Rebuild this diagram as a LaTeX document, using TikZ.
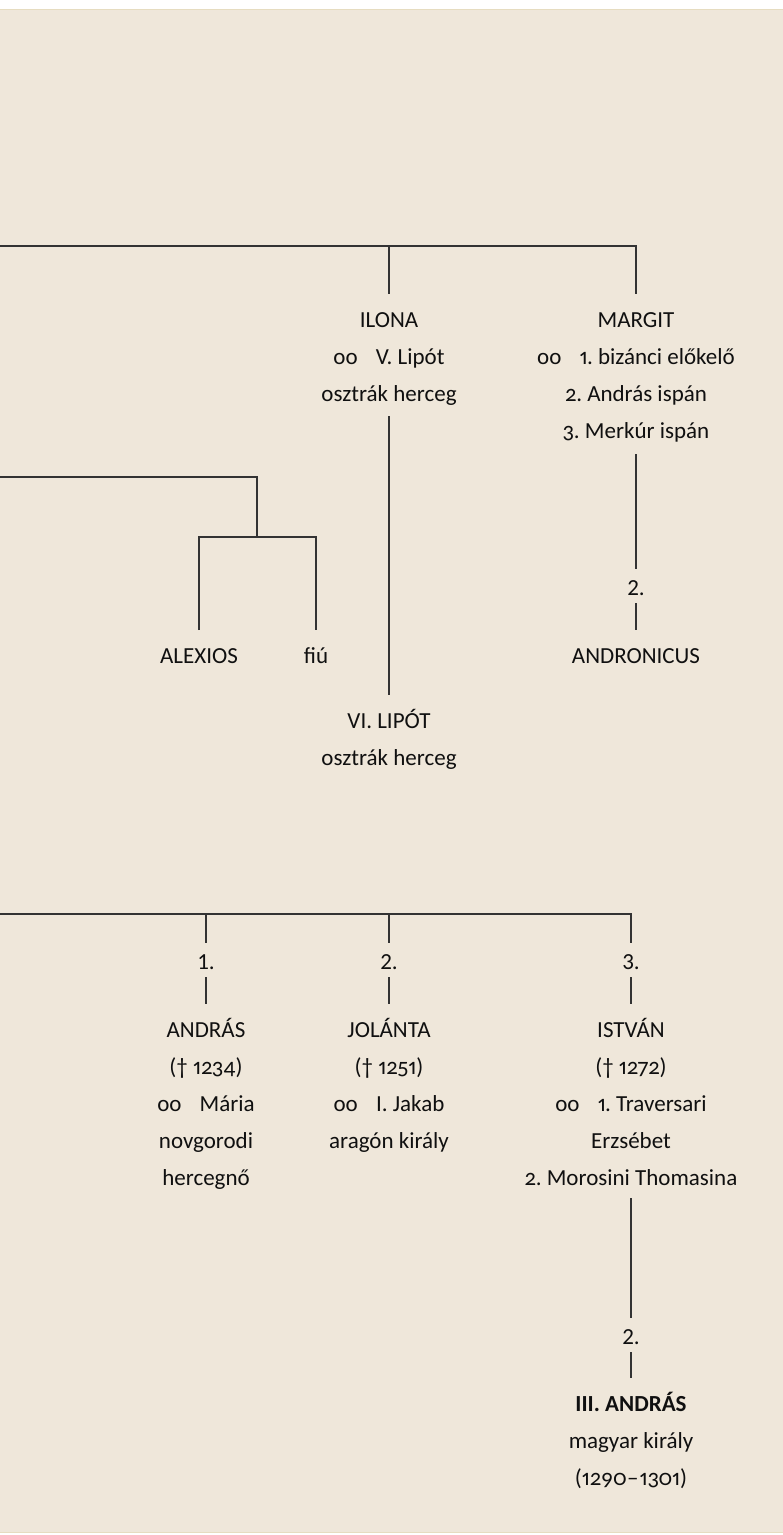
\documentclass[tikz,border=0pt]{standalone}
\usepackage{fontspec}
\setmainfont{Carlito}[Numbers={OldStyle,Proportional}]
\newfontfamily\numfont{Carlito}[Numbers=Lining]
\usepackage{tikz}
\usetikzlibrary{calc}

\definecolor{paper}{HTML}{EFE7DA}
\definecolor{paperedge}{HTML}{E6DCC0}
\definecolor{ink}{HTML}{101010}
\definecolor{rule}{HTML}{333333}

\newcommand{\hazas}{oo\hspace{13pt} }
\frenchspacing

\begin{document}
\begin{tikzpicture}[
  x=1pt, y=-1pt,
  % person nodes are placed at the baseline of their last line
  person/.style={anchor=base, align=center, inner sep=0pt, text=ink,
                 font=\fontsize{23pt}{37pt}\selectfont\frenchspacing},
  king/.style={person},
  num/.style={anchor=base, inner xsep=2pt, inner ysep=8pt, text=ink,
              text height=18pt, text depth=0pt,
              font=\numfont\fontsize{23pt}{37pt}\selectfont},
  link/.style={draw=rule, line width=1.2pt},
]
\useasboundingbox (0,0) rectangle (783,1535);

% --- paper ---
\fill[white] (0,0) rectangle (783,1535);
\fill[paper] (0,9) rectangle (783,1533);
\draw[paperedge, line width=0.8pt] (0,9.4) -- (783,9.4);
\draw[paperedge, line width=0.8pt] (0,1532.6) -- (783,1532.6);

% --- upper generation ---
\coordinate (bar1L) at (0,246);
\coordinate (bar1I) at (389,246);
\coordinate (bar1M) at (636,246);

\node[person] (ilona) at (389,401) {ILONA\\\hazas V. Lipót\\osztrák herceg};
\node[person] (margit) at (636,438) {MARGIT\\\hazas 1. bizánci előkelő\\2. András ispán\\3. Merkúr ispán};

\node[person] (lipot) at (389,765) {VI. LIPÓT\\osztrák herceg};

\coordinate (bar2L) at (0,477);
\coordinate (kids) at (257,537);
\node[person] (alexios) at (199,663) {ALEXIOS};
\node[person] (fiu) at (316,663) {fiú};

\node[num] (m2) at (636,595) {2.};
\node[person] (andronicus) at (636,663) {ANDRONICUS};

% --- lower generation ---
\coordinate (bar3L) at (0,914);
\coordinate (bar3A) at (206,914);
\coordinate (bar3J) at (389,914);
\coordinate (bar3I) at (631,914);

\node[num] (n1) at (206,969) {1.};
\node[num] (n2) at (389,969) {2.};
\node[num] (n3) at (631,969) {3.};

\node[person] (andras) at (206,1185) {ANDRÁS\\(† 1234)\\\hazas Mária\\novgorodi\\hercegnő};
\node[person] (jolanta) at (389,1148) {JOLÁNTA\\(† 1251)\\\hazas I. Jakab\\aragón király};
\node[person] (istvan) at (631,1185) {ISTVÁN\\(† 1272)\\\hazas 1. Traversari\\Erzsébet\\2. Morosini Thomasina};

\node[num] (i2) at (631,1344) {2.};
\node[king] (king) at (631,1485) {\textbf{III. ANDRÁS}\\magyar király\\(1290–1301)};

% --- lines ---
\draw[link] (bar1L) -- (bar1M) -- ([yshift=144pt]margit.base);
\draw[link] (bar1I) -- ([yshift=107pt]ilona.base);
\draw[link] ([yshift=-15pt]ilona.base) -- ([yshift=70pt]lipot.base);

\draw[link] (bar2L) -| (kids);
\draw[link] ([yshift=33pt]alexios.base) |- (kids) -| ([yshift=33pt]fiu.base);

\draw[link] ([yshift=-16pt]margit.base) -- (m2.north);
\draw[link] (m2.south) -- ([yshift=33pt]andronicus.base);

\draw[link] (bar3L) -- (bar3I) -- (n3.north);
\draw[link] (bar3A) -- (n1.north);
\draw[link] (bar3J) -- (n2.north);
\draw[link] (n1.south) -- ([yshift=181pt]andras.base);
\draw[link] (n2.south) -- ([yshift=144pt]jolanta.base);
\draw[link] (n3.south) -- ([yshift=181pt]istvan.base);

\draw[link] ([yshift=-13pt]istvan.base) -- (i2.north);
\draw[link] (i2.south) -- ([yshift=107pt]king.base);

\end{tikzpicture}
\end{document}
